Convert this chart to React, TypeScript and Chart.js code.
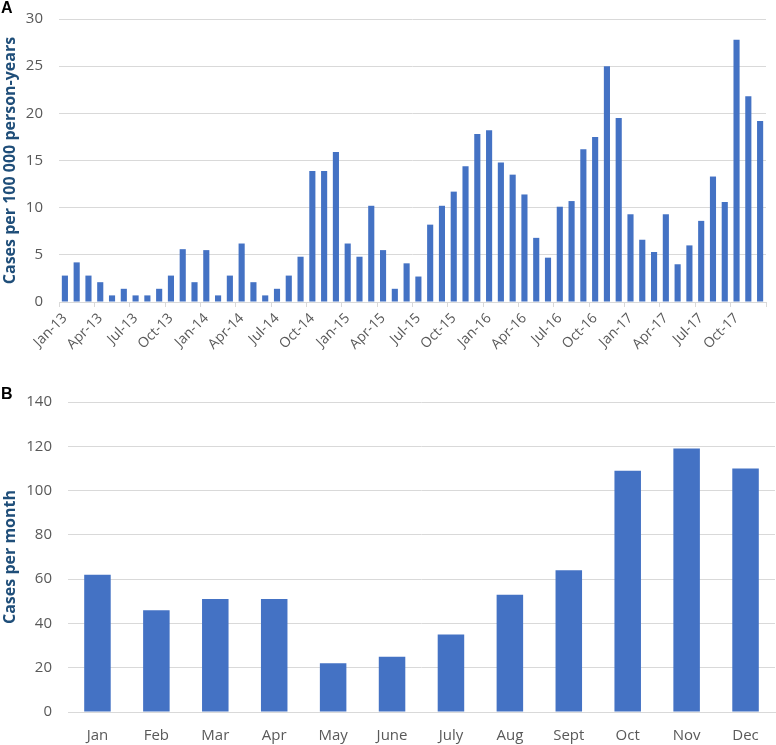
import React, { useEffect, useRef } from 'react';
import { Chart, registerables } from 'chart.js';

Chart.register(...registerables);

// Panel A: monthly incidence rate, Jan 2013 – Dec 2017
const MONTH_ABBR = ['Jan', 'Feb', 'Mar', 'Apr', 'May', 'Jun', 'Jul', 'Aug', 'Sep', 'Oct', 'Nov', 'Dec'];
const YEARS = ['13', '14', '15', '16', '17'];
const monthlyLabels = YEARS.flatMap((y) => MONTH_ABBR.map((m) => `${m}-${y}`));

const rates2013 = [2.8, 4.2, 2.8, 2.1, 0.7, 1.4, 0.7, 0.7, 1.4, 2.8, 5.6, 2.1];
const rates2014 = [5.5, 0.7, 2.8, 6.2, 2.1, 0.7, 1.4, 2.8, 4.8, 13.9, 13.9, 15.9];
const rates2015 = [6.2, 4.8, 10.2, 5.5, 1.4, 4.1, 2.7, 8.2, 10.2, 11.7, 14.4, 17.8];
const rates2016 = [18.2, 14.8, 13.5, 11.4, 6.8, 4.7, 10.1, 10.7, 16.2, 17.5, 25.0, 19.5];
const rates2017 = [9.3, 6.6, 5.3, 9.3, 4.0, 6.0, 8.6, 13.3, 10.6, 27.8, 21.8, 19.2];
const monthlyRates = [...rates2013, ...rates2014, ...rates2015, ...rates2016, ...rates2017];

const rateTicks = [0, 5, 10, 15, 20, 25, 30];

// Panel B: total cases by calendar month
const calendarMonths = ['Jan', 'Feb', 'Mar', 'Apr', 'May', 'June', 'July', 'Aug', 'Sept', 'Oct', 'Nov', 'Dec'];
const casesPerMonth = [62, 46, 51, 51, 22, 25, 35, 53, 64, 109, 119, 110];

const caseTicks = [0, 20, 40, 60, 80, 100, 120, 140];

const BAR_BLUE = '#4472C4';
const GRID_GRAY = '#D9D9D9';
const TICK_TEXT = '#595959';
const TITLE_BLUE = '#1F4E79';
const FONT = '"Open Sans", "Noto Sans", sans-serif';

const W = 776;
const A_H = 360;
const B_TOP = 360;
const B_H = 385;

// keep the value axis from reserving extra room above/below the plot
const trimVerticalPadding = (scale: any, width: number) => {
  scale.width = width;
  scale.paddingTop = 0;
  scale.paddingBottom = 0;
};

function App() {
  const refA = useRef<HTMLCanvasElement | null>(null);
  const refB = useRef<HTMLCanvasElement | null>(null);

  useEffect(() => {
    if (!refA.current || !refB.current) return;

    const chartA = new Chart(refA.current, {
      type: 'bar',
      data: {
        labels: monthlyLabels,
        datasets: [
          {
            data: monthlyRates,
            backgroundColor: BAR_BLUE,
            barPercentage: 0.52,
            categoryPercentage: 1,
          },
        ],
      },
      options: {
        responsive: false,
        animation: false,
        layout: { padding: { left: 1, right: 10, top: 19, bottom: 0 } },
        plugins: { legend: { display: false }, tooltip: { enabled: false } },
        scales: {
          x: {
            offset: true,
            grid: {
              offset: true,
              drawOnChartArea: false,
              drawTicks: true,
              tickLength: 5,
              color: (ctx: any) =>
                ctx.index === undefined || ctx.index % 3 === 0 ? GRID_GRAY : 'rgba(0,0,0,0)',
            },
            border: { display: true, color: GRID_GRAY },
            ticks: {
              autoSkip: false,
              minRotation: 45,
              maxRotation: 45,
              padding: 3,
              color: TICK_TEXT,
              font: { family: FONT, size: 14 },
              callback: (_v: any, i: number) => (i % 3 === 0 ? monthlyLabels[i] : ''),
            },
            afterFit: (scale: any) => {
              scale.height = A_H - 302;
            },
          },
          y: {
            min: rateTicks[0],
            max: rateTicks[rateTicks.length - 1],
            afterBuildTicks: (scale: any) => {
              scale.ticks = rateTicks.map((v) => ({ value: v }));
            },
            grid: { color: GRID_GRAY, drawTicks: false },
            border: { display: false },
            ticks: {
              padding: 16,
              color: TICK_TEXT,
              font: { family: FONT, size: 15 },
            },
            title: {
              display: true,
              text: 'Cases per 100 000 person-years',
              color: TITLE_BLUE,
              font: { family: FONT, size: 16, weight: 'bold' },
              padding: { top: 0, bottom: 0 },
            },
            afterFit: (scale: any) => trimVerticalPadding(scale, 58),
          },
        },
      },
    });

    const chartB = new Chart(refB.current, {
      type: 'bar',
      data: {
        labels: calendarMonths,
        datasets: [
          {
            data: casesPerMonth,
            backgroundColor: BAR_BLUE,
            barPercentage: 0.45,
            categoryPercentage: 1,
          },
        ],
      },
      options: {
        responsive: false,
        animation: false,
        layout: { padding: { left: 1, right: 1, top: 42, bottom: 0 } },
        plugins: { legend: { display: false }, tooltip: { enabled: false } },
        scales: {
          x: {
            grid: { display: false },
            border: { display: true, color: GRID_GRAY },
            ticks: {
              padding: 7,
              maxRotation: 0,
              color: TICK_TEXT,
              font: { family: FONT, size: 15 },
            },
            afterFit: (scale: any) => {
              scale.height = B_H - (712 - B_TOP);
            },
          },
          y: {
            min: caseTicks[0],
            max: caseTicks[caseTicks.length - 1],
            afterBuildTicks: (scale: any) => {
              scale.ticks = caseTicks.map((v) => ({ value: v }));
            },
            grid: { color: GRID_GRAY, drawTicks: false },
            border: { display: false },
            ticks: {
              padding: 16,
              color: TICK_TEXT,
              font: { family: FONT, size: 15 },
            },
            title: {
              display: true,
              text: 'Cases per month',
              color: TITLE_BLUE,
              font: { family: FONT, size: 16, weight: 'bold' },
              padding: { top: 0, bottom: 0 },
            },
            afterFit: (scale: any) => trimVerticalPadding(scale, 67),
          },
        },
      },
    });

    return () => {
      chartA.destroy();
      chartB.destroy();
    };
  }, []);

  const panelLabel: React.CSSProperties = {
    position: 'absolute',
    left: 1,
    fontFamily: '"Liberation Sans", Arial, sans-serif',
    fontWeight: 'bold',
    fontSize: 16,
    lineHeight: '16px',
    color: '#000',
  };

  return (
    <div style={{ position: 'fixed', left: 0, top: 0, width: W, height: 745, background: '#fff' }}>
      <canvas ref={refA} width={W} height={A_H} style={{ position: 'absolute', left: 0, top: 0 }} />
      <canvas ref={refB} width={W} height={B_H} style={{ position: 'absolute', left: 0, top: B_TOP }} />
      <div style={{ ...panelLabel, top: 0 }}>A</div>
      <div style={{ ...panelLabel, top: 386 }}>B</div>
    </div>
  );
}

export default App;
